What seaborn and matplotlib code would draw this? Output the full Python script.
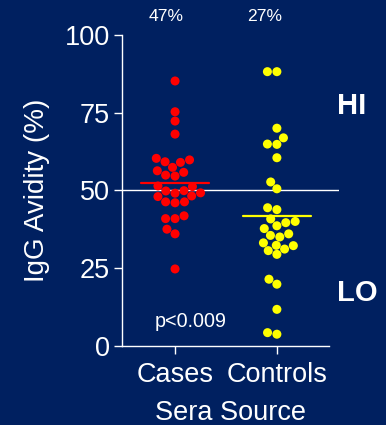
import matplotlib
matplotlib.use("Agg")
import matplotlib.pyplot as plt
import seaborn as sns
import pandas as pd
import numpy as np

groups = ["Cases", "Controls"]
cases = [85.2, 75.3, 72.3, 68.1, 59.8, 59.0, 60.3, 59.2, 57.4, 56.3, 55.8, 54.9,
         54.6, 51.2, 51.4, 49.9, 49.8, 49.1, 49.2, 48.0, 48.2, 46.3, 46.0, 46.3,
         41.8, 40.9, 40.9, 37.5, 36.0, 24.7]
controls = [88.2, 88.2, 70.0, 66.9, 64.9, 64.8, 60.5, 52.7, 50.5, 44.4, 43.8,
            40.8, 40.0, 39.6, 38.6, 37.7, 36.0, 35.0, 35.5, 33.1, 32.2, 30.6,
            29.4, 31.1, 32.3, 19.8, 21.4, 11.7, 3.7, 4.2]
high_pct = ["47%", "27%"]
yticks = [0, 25, 50, 75, 100]
cutoff = 50
p_text = "p<0.009"

BG = "#002060"
colors = ["#FF0000", "#FFFF00"]

df = pd.DataFrame({
    "group": ["Cases"] * len(cases) + ["Controls"] * len(controls),
    "value": cases + controls,
})

sns.set_style("ticks")
plt.rcParams["font.family"] = ["Liberation Sans", "DejaVu Sans"]

fig = plt.figure(figsize=(3.86, 4.25), dpi=100, facecolor=BG)
W, H = 386, 425
ax = fig.add_axes([122 / W, (H - 345.7) / H, (339 - 122) / W, (345.7 - 35) / H])
ax.set_facecolor(BG)

sns.swarmplot(data=df, x="group", y="value", hue="group", palette=colors,
              order=groups, hue_order=groups, size=6.5, legend=False, ax=ax,
              linewidth=0)

# mean lines
for i, vals in enumerate([cases, controls]):
    m = np.mean(vals)
    ax.plot([i - 0.335, i + 0.335], [m, m], color=colors[i], lw=1.6, zorder=3)

ax.axhline(cutoff, color="white", lw=1, zorder=1)

ax.set_xlim(-0.521, 1.61)
ax.set_ylim(0, 100)
ax.set_yticks(yticks)
ax.set_yticklabels([str(t) for t in yticks])

for s in ["top", "right"]:
    ax.spines[s].set_visible(False)
for s in ["left", "bottom"]:
    ax.spines[s].set_color("white")
    ax.spines[s].set_linewidth(1)
ax.spines["bottom"].set_bounds(-0.521, 1.51)

ax.tick_params(colors="white", labelcolor="white", labelsize=19.5, length=5.5,
               width=1, pad=3)
ax.tick_params(axis="x", pad=6)

ax.set_xlabel("Sera Source", color="white", fontsize=19.5, labelpad=9)
ax.set_ylabel("IgG Avidity (%)", color="white", fontsize=20, labelpad=11)

for i, t in enumerate(high_pct):
    ax.text(i + [-0.09, -0.118][i], 106, t, color="white", fontsize=12.6,
            ha="center", va="center", clip_on=False)

ax.text(1.59, 77.3, "HI", color="white", fontsize=21, fontweight="bold",
        ha="left", va="center", clip_on=False)
ax.text(1.59, 17.0, "LO", color="white", fontsize=21, fontweight="bold",
        ha="left", va="center", clip_on=False)
ax.text(0.157, 6.1, p_text, color="white", fontsize=14.2, ha="center",
        va="baseline")

fig.savefig("out.png", dpi=100, facecolor=BG)
